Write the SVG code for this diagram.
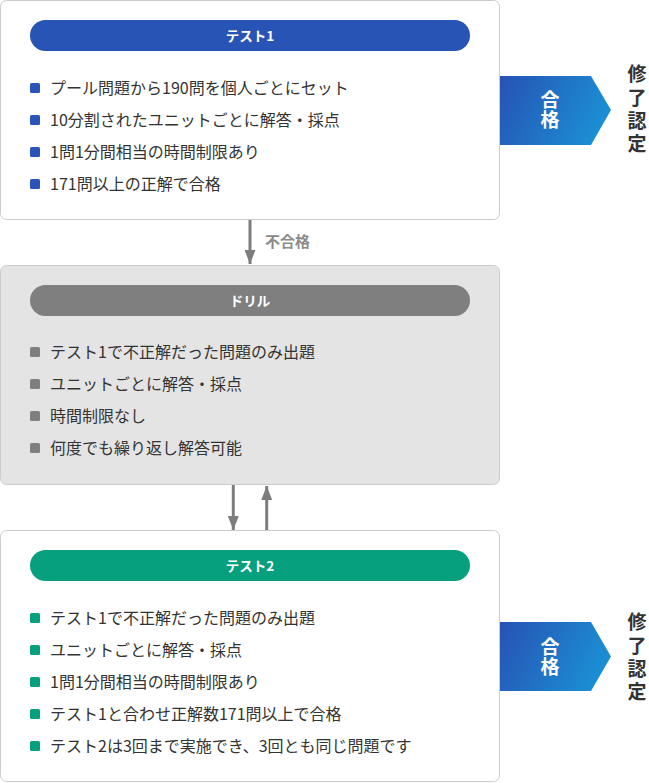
<svg xmlns="http://www.w3.org/2000/svg" width="649" height="783" viewBox="0 0 649 783">
  <defs>
    <linearGradient id="passGrad" x1="0" y1="0" x2="1" y2="0.3">
      <stop offset="0" stop-color="#2752b4"/>
      <stop offset="1" stop-color="#1b8dd3"/>
    </linearGradient>
    <marker id="arrowHead" viewBox="0 0 14 11" refX="14" refY="5.5" markerWidth="14" markerHeight="11" markerUnits="userSpaceOnUse" orient="auto">
      <path d="M0,0 L14,5.5 L0,11 Z" fill="#7d7d7d"/>
    </marker>
    <style>
      .box { stroke: #cccccc; stroke-width: 1; }
      .txt { font-family: "Noto Sans CJK JP", "Noto Sans", sans-serif; font-size: 16px; fill: #333333; }
      .head { font-family: "Noto Sans CJK JP", "Noto Sans", sans-serif; font-size: 13.5px; font-weight: bold; fill: #ffffff; text-anchor: middle; }
      .pass { font-family: "Noto Sans CJK JP", "Noto Sans", sans-serif; font-size: 19px; font-weight: bold; fill: #ffffff; writing-mode: vertical-rl; text-orientation: upright; letter-spacing: 1px; }
      .cert { font-family: "Noto Sans CJK JP", "Noto Sans", sans-serif; font-size: 19px; font-weight: bold; fill: #333333; writing-mode: vertical-rl; text-orientation: upright; letter-spacing: 4.3px; }
      .lbl { font-family: "Noto Sans CJK JP", "Noto Sans", sans-serif; font-size: 15px; font-weight: bold; fill: #8a8a8a; }
      .conn { stroke: #7d7d7d; stroke-width: 3; fill: none; }
      .b1 { fill: #2855b5; }
      .b2 { fill: #7f7f7f; }
      .b3 { fill: #06a07e; }
    </style>
  </defs>

  <g id="test1">
    <rect class="box" x="0.5" y="0.5" width="499" height="219" rx="6" fill="#ffffff"/>
    <rect x="30" y="20" width="440" height="31" rx="15.5" class="b1"/>
    <text class="head" x="250" y="40.6">テスト1</text>
    <rect class="b1" x="30" y="83" width="10" height="10" rx="1.5"/>
    <text class="txt" x="50" y="94">プール問題から190問を個人ごとにセット</text>
    <rect class="b1" x="30" y="115" width="10" height="10" rx="1.5"/>
    <text class="txt" x="50" y="126">10分割されたユニットごとに解答・採点</text>
    <rect class="b1" x="30" y="147" width="10" height="10" rx="1.5"/>
    <text class="txt" x="50" y="158">1問1分間相当の時間制限あり</text>
    <rect class="b1" x="30" y="179" width="10" height="10" rx="1.5"/>
    <text class="txt" x="50" y="190">171問以上の正解で合格</text>
  </g>

  <g id="pass1">
    <path d="M500,76 L591,76 L611,110 L591,145 L500,145 Z" fill="url(#passGrad)"/>
    <text class="pass" x="550" y="90.5">合格</text>
  </g>

  <g id="cert1">
    <text class="cert" x="637" y="64.5">修了認定</text>
  </g>

  <g id="drill">
    <rect class="box" x="0.5" y="265.5" width="499" height="219" rx="6" fill="#e4e4e4"/>
    <rect x="30" y="285" width="440" height="31" rx="15.5" class="b2"/>
    <text class="head" x="250" y="305.6">ドリル</text>
    <rect class="b2" x="30" y="347" width="10" height="10" rx="1.5"/>
    <text class="txt" x="50" y="358">テスト1で不正解だった問題のみ出題</text>
    <rect class="b2" x="30" y="379" width="10" height="10" rx="1.5"/>
    <text class="txt" x="50" y="390">ユニットごとに解答・採点</text>
    <rect class="b2" x="30" y="411" width="10" height="10" rx="1.5"/>
    <text class="txt" x="50" y="422">時間制限なし</text>
    <rect class="b2" x="30" y="443" width="10" height="10" rx="1.5"/>
    <text class="txt" x="50" y="454">何度でも繰り返し解答可能</text>
  </g>

  <g id="test2">
    <rect class="box" x="0.5" y="530.5" width="499" height="251" rx="6" fill="#ffffff"/>
    <rect x="30" y="550" width="440" height="31" rx="15.5" class="b3"/>
    <text class="head" x="250" y="570.6">テスト2</text>
    <rect class="b3" x="30" y="613" width="10" height="10" rx="1.5"/>
    <text class="txt" x="50" y="624">テスト1で不正解だった問題のみ出題</text>
    <rect class="b3" x="30" y="645" width="10" height="10" rx="1.5"/>
    <text class="txt" x="50" y="656">ユニットごとに解答・採点</text>
    <rect class="b3" x="30" y="677" width="10" height="10" rx="1.5"/>
    <text class="txt" x="50" y="688">1問1分間相当の時間制限あり</text>
    <rect class="b3" x="30" y="709" width="10" height="10" rx="1.5"/>
    <text class="txt" x="50" y="720">テスト1と合わせ正解数171問以上で合格</text>
    <rect class="b3" x="30" y="741" width="10" height="10" rx="1.5"/>
    <text class="txt" x="50" y="752">テスト2は3回まで実施でき、3回とも同じ問題です</text>
  </g>

  <g id="pass2">
    <path d="M500,622 L591,622 L611,656.5 L591,691 L500,691 Z" fill="url(#passGrad)"/>
    <text class="pass" x="550" y="637">合格</text>
  </g>

  <g id="cert2">
    <text class="cert" x="637" y="612.5">修了認定</text>
  </g>

  <g id="connectors">
    <line class="conn" x1="250" y1="220" x2="250" y2="264" marker-end="url(#arrowHead)"/>
    <text class="lbl" x="265" y="246.7">不合格</text>
    <line class="conn" x1="233.3" y1="485" x2="233.3" y2="530" marker-end="url(#arrowHead)"/>
    <line class="conn" x1="266.7" y1="530" x2="266.7" y2="486" marker-end="url(#arrowHead)"/>
  </g>
</svg>
